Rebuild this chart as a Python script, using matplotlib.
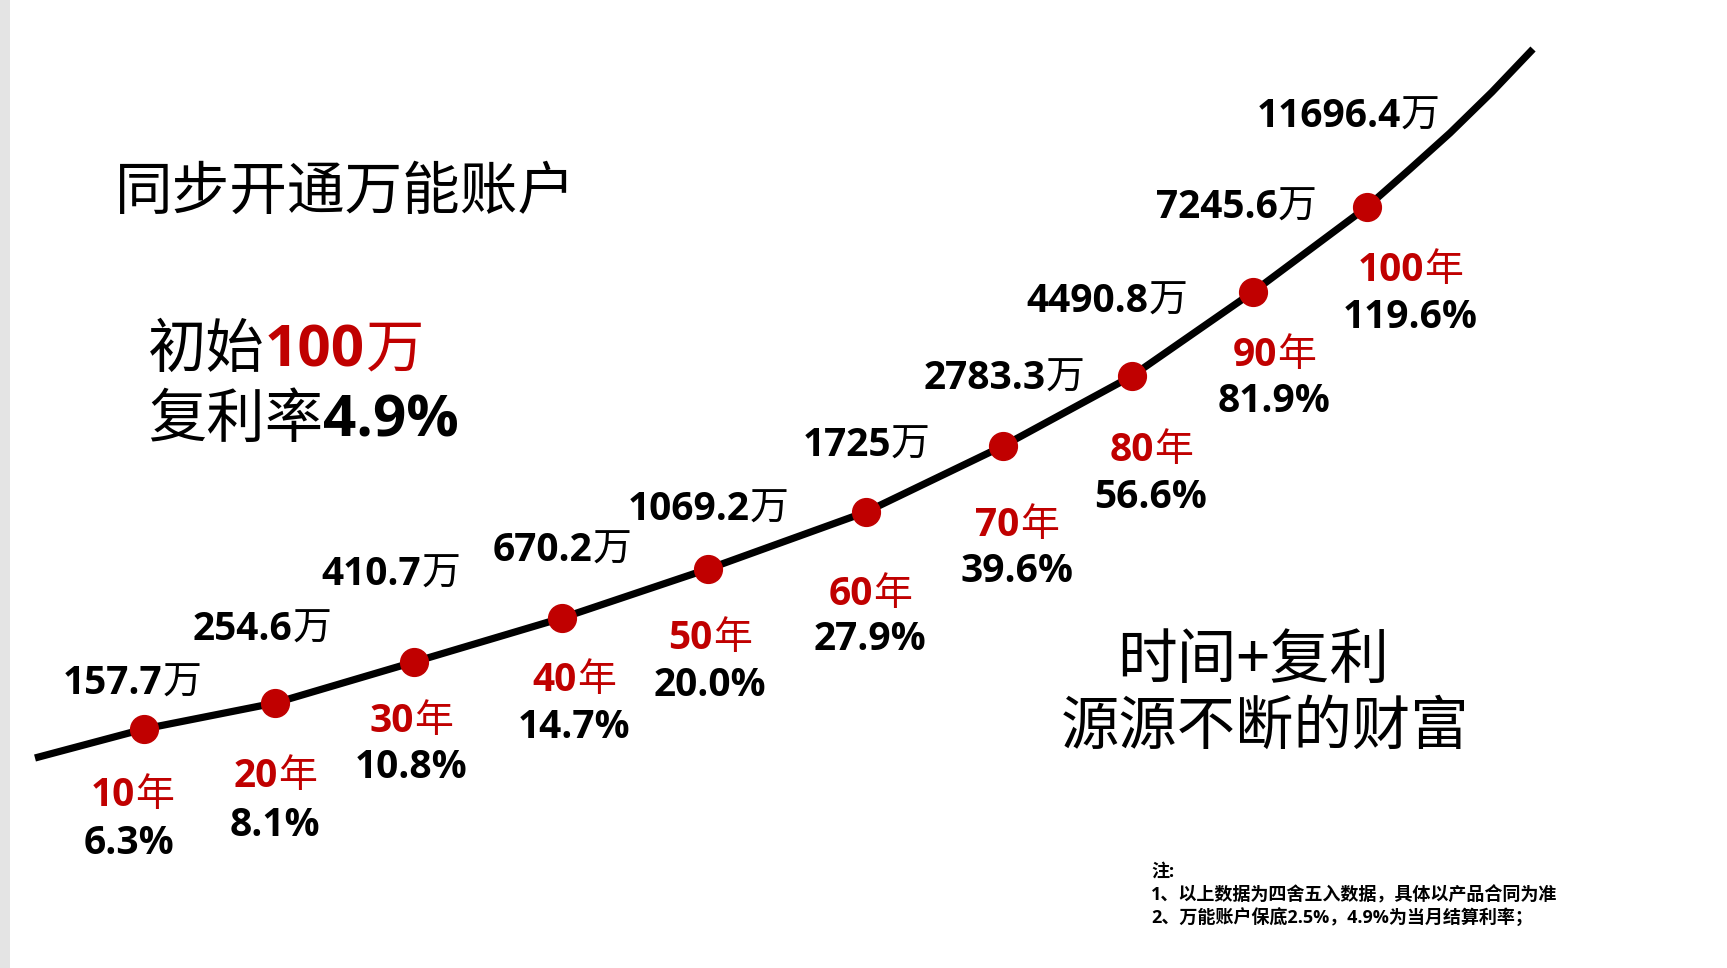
import matplotlib
matplotlib.use("Agg")
import matplotlib.pyplot as plt
from matplotlib.offsetbox import TextArea, HPacker, AnnotationBbox

# data
years = [10, 20, 30, 40, 50, 60, 70, 80, 90, 100]
balance = ["157.7", "254.6", "410.7", "670.2", "1069.2", "1725", "2783.3", "4490.8", "7245.6", "11696.4"]
growth = ["6.3%", "8.1%", "10.8%", "14.7%", "20.0%", "27.9%", "39.6%", "56.6%", "81.9%", "119.6%"]

# hand drawn curve (drawing units = image pixels)
dot_x = [144, 275, 414, 562, 708, 866, 1003, 1132, 1253, 1367]
dot_y = [729, 703, 662, 618, 569, 512, 446, 376, 292, 207]
curve_x = [35] + dot_x + [1410, 1450, 1492, 1533]
curve_y = [758] + dot_y + [169, 133, 92, 49]

# label offsets from each dot (pixels, +y is down)
val_off = [(-12, -46), (-13, -74), (-23, -88), (0, -68), (0, -60), (0, -67), (1, -68), (-25, -75), (-17, -85), (-19, -91)]
yr_off = [(-12, 66), (0, 73), (-3, 59), (12, 62), (2, 69), (4, 82), (14, 79), (19, 74), (21, 63), (43, 63)]
pct_off = [(-15, 115), (0, 122), (-3, 106), (12, 109), (2, 116), (4, 127), (14, 126), (19, 122), (21, 110), (43, 110)]

RED = "#c00000"
DIGIT = ["Open Sans", "Noto Sans CJK SC"]
CJK = ["Noto Sans CJK SC", "DejaVu Sans"]

fig = plt.figure(figsize=(17.27, 9.68), dpi=100)
ax = fig.add_axes([0, 0, 1, 1])
ax.set_xlim(0, 1727)
ax.set_ylim(968, 0)
ax.axis("off")
ax.axvspan(0, 10, color="#e4e4e4", lw=0)

ax.plot(curve_x, curve_y, color="black", lw=5.2, solid_joinstyle="round", solid_capstyle="butt", zorder=2)
ax.plot(dot_x, dot_y, "o", color=RED, markersize=20, zorder=3)


def piece(s, size, weight, color, family):
    return TextArea(s, textprops=dict(fontsize=size, fontweight=weight, color=color, family=family))


def put(parts, xy, off=(0, 0), align=(0.5, 0.5)):
    box = HPacker(children=parts, align="baseline", pad=0, sep=0)
    ab = AnnotationBbox(box, xy, xybox=(off[0] * 0.72, -off[1] * 0.72), xycoords="data",
                        boxcoords="offset points", frameon=False, box_alignment=align, pad=0)
    ax.add_artist(ab)


FS = 28
for i in range(len(years)):
    xy = (dot_x[i], dot_y[i])
    put([piece(balance[i], FS, "bold", "black", DIGIT), piece("万", FS, "normal", "black", CJK)], xy, val_off[i])
    put([piece(str(years[i]), FS, "bold", RED, DIGIT), piece("年", FS, "normal", RED, CJK)], xy, yr_off[i])
    put([piece(growth[i], FS, "bold", "black", DIGIT)], xy, pct_off[i])

# headline texts
ax.text(115, 193, "同步开通万能账户", fontsize=41.5, family=CJK, color="black", ha="left", va="center")
put([piece("初始", 42, "normal", "black", CJK), piece("100", 42, "bold", RED, DIGIT),
     piece("万", 42, "normal", RED, CJK)], (148, 350), align=(0, 0.5))
put([piece("复利率", 42, "normal", "black", CJK), piece("4.9%", 42, "bold", "black", DIGIT)],
    (148, 420), align=(0, 0.5))

ax.text(1253, 661, "时间+复利", fontsize=43, family=CJK, color="black", ha="center", va="center")
ax.text(1265, 727, "源源不断的财富", fontsize=42, family=CJK, color="black", ha="center", va="center")

notes = ["注:", "1、以上数据为四舍五入数据，具体以产品合同为准", "2、万能账户保底2.5%，4.9%为当月结算利率；"]
for k, line in enumerate(notes):
    ax.text(1151, 872 + 23 * k, line, fontsize=13, fontweight="bold", family=DIGIT,
            color="black", ha="left", va="center")

fig.savefig("out.png", dpi=100, facecolor="white")
